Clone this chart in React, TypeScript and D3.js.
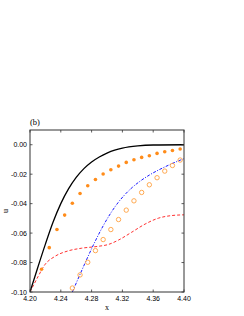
import React from "react";
import * as d3 from "d3";

const xTicks = [4.2, 4.24, 4.28, 4.32, 4.36, 4.4];
const yTicks = [-0.1, -0.08, -0.06, -0.04, -0.02, 0.0];

const blackX = [4.2, 4.21, 4.22, 4.23, 4.24, 4.25, 4.26, 4.27, 4.28, 4.29, 4.3, 4.31, 4.32, 4.34, 4.36, 4.4];
const blackU = [-0.1, -0.0835, -0.0675, -0.0525, -0.04, -0.03, -0.0222, -0.0162, -0.0117, -0.0083, -0.0057, -0.0037, -0.0023, -0.0008, -0.0002, 0.0];

const redX = [4.2, 4.2104, 4.2191, 4.2321, 4.2494, 4.2666, 4.2883, 4.3013, 4.3147, 4.3321, 4.3494, 4.3666, 4.384, 4.4];
const redU = [-0.1, -0.0896, -0.0816, -0.0759, -0.0721, -0.0703, -0.069, -0.0678, -0.0648, -0.0594, -0.0539, -0.0499, -0.0481, -0.0476];

const blueX = [4.255, 4.265, 4.275, 4.285, 4.295, 4.305, 4.315, 4.325, 4.335, 4.345, 4.355, 4.365, 4.375, 4.385, 4.395, 4.4];
const blueU = [-0.1, -0.088, -0.0763, -0.0652, -0.0551, -0.0463, -0.0389, -0.0329, -0.028, -0.024, -0.0206, -0.0177, -0.0151, -0.0127, -0.0105, -0.0095];

const dotsX = [4.215, 4.225, 4.235, 4.245, 4.255, 4.265, 4.275, 4.285, 4.295, 4.305, 4.315, 4.325, 4.335, 4.345, 4.355, 4.365, 4.375, 4.385, 4.395];
const dotsU = [-0.0846, -0.0699, -0.0576, -0.0478, -0.0397, -0.0331, -0.0279, -0.0236, -0.0199, -0.017, -0.0145, -0.012, -0.0102, -0.0086, -0.0075, -0.0059, -0.0048, -0.0039, -0.0029];

const circX = [4.255, 4.265, 4.275, 4.285, 4.295, 4.305, 4.315, 4.325, 4.335, 4.345, 4.355, 4.365, 4.375, 4.385, 4.395];
const circU = [-0.0973, -0.0884, -0.0798, -0.0719, -0.0644, -0.0576, -0.0508, -0.0444, -0.0381, -0.0324, -0.0272, -0.0224, -0.0179, -0.0141, -0.0104];

export default function App() {
  const L = 30, R = 184, T = 130, B = 292;
  const x = d3.scaleLinear().domain([4.2, 4.4]).range([L, R]);
  const y = d3.scaleLinear().domain([-0.1, 0.01]).range([B, T]);
  const line = d3
    .line<[number, number]>()
    .x((d) => x(d[0]))
    .y((d) => y(d[1]))
    .curve(d3.curveMonotoneX);
  const zip = (a: number[], b: number[]) => a.map((v, i) => [v, b[i]] as [number, number]);
  const tickFont = "'Liberation Sans', Arial, sans-serif";
  const serif = "'Liberation Serif', 'Times New Roman', serif";
  const tl = 2.5;
  return (
    <svg width={244} height={316} style={{ position: "absolute", left: 0, top: 0 }}>
      <rect width={244} height={316} fill="#fff" />
      <defs>
        <clipPath id="pc">
          <rect x={L} y={T} width={R - L} height={B - T} />
        </clipPath>
      </defs>
      <g clipPath="url(#pc)">
        <path d={line(zip(redX, redU)) || ""} fill="none" stroke="#ff3030" strokeWidth={1} strokeDasharray="3,2" />
        <path d={line(zip(blueX, blueU)) || ""} fill="none" stroke="#1a1aff" strokeWidth={1} strokeDasharray="3,1.5,1,1.5" />
        <path d={line(zip(blackX, blackU)) || ""} fill="none" stroke="#000" strokeWidth={1.3} />
        {dotsX.map((v, i) => (
          <circle key={"d" + i} cx={x(v)} cy={y(dotsU[i])} r={1.8} fill="#ff8c1a" />
        ))}
        {circX.map((v, i) => (
          <circle key={"c" + i} cx={x(v)} cy={y(circU[i])} r={2.2} fill="none" stroke="#ffa040" strokeWidth={0.9} />
        ))}
      </g>
      <rect x={L} y={T} width={R - L} height={B - T} fill="none" stroke="#333" strokeWidth={1} />
      {xTicks.map((t) => (
        <g key={"x" + t}>
          <line x1={x(t)} x2={x(t)} y1={B} y2={B - tl} stroke="#333" strokeWidth={0.8} />
          <line x1={x(t)} x2={x(t)} y1={T} y2={T + tl} stroke="#333" strokeWidth={0.8} />
          <text x={x(t)} y={301} fontSize={7} fontFamily={tickFont} textAnchor="middle" fill="#000">
            {t.toFixed(2)}
          </text>
        </g>
      ))}
      {yTicks.map((t) => (
        <g key={"y" + t}>
          <line x1={L} x2={L + tl} y1={y(t)} y2={y(t)} stroke="#333" strokeWidth={0.8} />
          <line x1={R} x2={R - tl} y1={y(t)} y2={y(t)} stroke="#333" strokeWidth={0.8} />
          <text x={27} y={y(t) + 2.5} fontSize={7} fontFamily={tickFont} textAnchor="end" fill="#000">
            {t.toFixed(2)}
          </text>
        </g>
      ))}
      <text x={30} y={125} fontSize={8.5} fontFamily={serif} fill="#000">(b)</text>
      <text x={107} y={310} fontSize={8} fontFamily={serif} textAnchor="middle" fill="#000">x</text>
      <text transform="translate(8,211) rotate(-90)" fontSize={8} fontFamily={serif} textAnchor="middle" fill="#000">u</text>
    </svg>
  );
}
